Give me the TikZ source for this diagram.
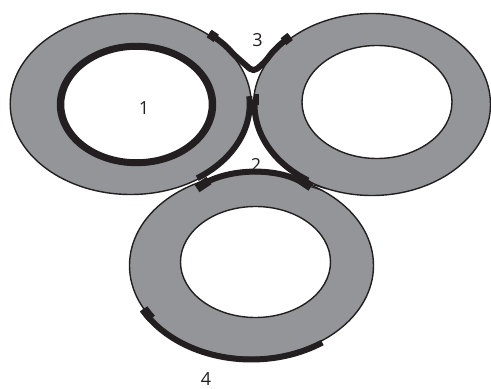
\documentclass[tikz,border=0pt]{standalone}
\usepackage{fontspec}
\setmainfont{Open Sans}
\definecolor{ringgray}{HTML}{939598}
\definecolor{ink}{HTML}{231F20}
\begin{document}
\begin{tikzpicture}[x=1pt,y=1pt,
  ring/.style={fill=ringgray, draw=ink, line width=1.4pt, even odd rule},
  rope/.style={draw=ink, line width=6pt, line join=round, line cap=butt},
  ropeend/.style={draw=ink, line width=9pt, line cap=butt},
  strand/.style={draw=ink, line width=1pt},
  lbl/.style={font=\fontsize{18}{20}\selectfont, text=ink, inner sep=0pt}]
\fill[white] (0,0) rectangle (491,389);
\useasboundingbox (0,0) rectangle (491,389);
% centres
\coordinate (L) at (130.7,285);
\coordinate (Li) at (136.5,284.5);
\coordinate (R) at (372,284.5);
\coordinate (Ri) at (377,287);
\coordinate (B) at (251.5,123.5);
\coordinate (Bi) at (255.5,127);
% rings
\path[ring] (L) ellipse [x radius=120.5pt, y radius=90.5pt] (Li) ellipse [x radius=79pt, y radius=61pt];
\path[ring] (R) ellipse [x radius=118.5pt, y radius=91pt] (Ri) ellipse [x radius=75pt, y radius=56.5pt];
\path[ring] (B) ellipse [x radius=122pt, y radius=92pt] (Bi) ellipse [x radius=75pt, y radius=55.5pt];
\draw[ink, line width=6.5pt] (Li) ellipse [x radius=75.5pt, y radius=58pt];
% labels
\node[lbl] (n1) at (144,281) {1};
\node[lbl] (n2) at (256,224) {2};
\node[lbl] (n3) at (257.5,349) {3};
\node[lbl] (n4) at (206,10) {4};
% top rope (3)
\coordinate (V) at (253.5,317);
\draw[rope, rounded corners=5pt] ([shift={(50:122pt and 92pt)}]L)
  arc[start angle=50, end angle=33, x radius=122pt, y radius=92pt] -- (V)
  -- ([shift={(152:120pt and 93pt)}]R)
  arc[start angle=152, end angle=133, x radius=120pt, y radius=93pt];
\draw[ropeend] ([shift={(50:122pt and 92pt)}]L) arc[start angle=50, end angle=45.5, x radius=122pt, y radius=92pt];
\draw[ropeend] ([shift={(133:120pt and 93pt)}]R) arc[start angle=133, end angle=137.5, x radius=120pt, y radius=93pt];
% middle ropes (2)
\draw[rope] ([shift={(5:119pt and 89.5pt)}]L) arc[start angle=5, end angle=-56, x radius=119pt, y radius=89.5pt];
\draw[rope] ([shift={(177:117.5pt and 90.5pt)}]R) arc[start angle=177, end angle=237, x radius=117.5pt, y radius=90.5pt];
\draw[draw=ink, line width=5.5pt] (256.5,295) -- (256.5,284);
\coordinate (c0) at (200,203);
\coordinate (c1) at (306,204);
\draw[rope] (c0) .. controls (226,221) and (280,223) .. (c1);
\draw[ropeend] (197,200.5) -- (209,208.5);
\draw[ropeend] (298,211) -- (311,202);
\draw[strand] (310,205) -- (327,200);
\draw[strand] (310,202.5) -- (323,198.5);
% bottom rope (4)
\draw[rope] ([shift={(208:123.5pt and 94pt)}]B) arc[start angle=208, end angle=305, x radius=123.5pt, y radius=94pt];
\draw[ropeend] ([shift={(208:122pt and 92.5pt)}]B) arc[start angle=208, end angle=215, x radius=122pt, y radius=92.5pt];
\end{tikzpicture}
\end{document}
